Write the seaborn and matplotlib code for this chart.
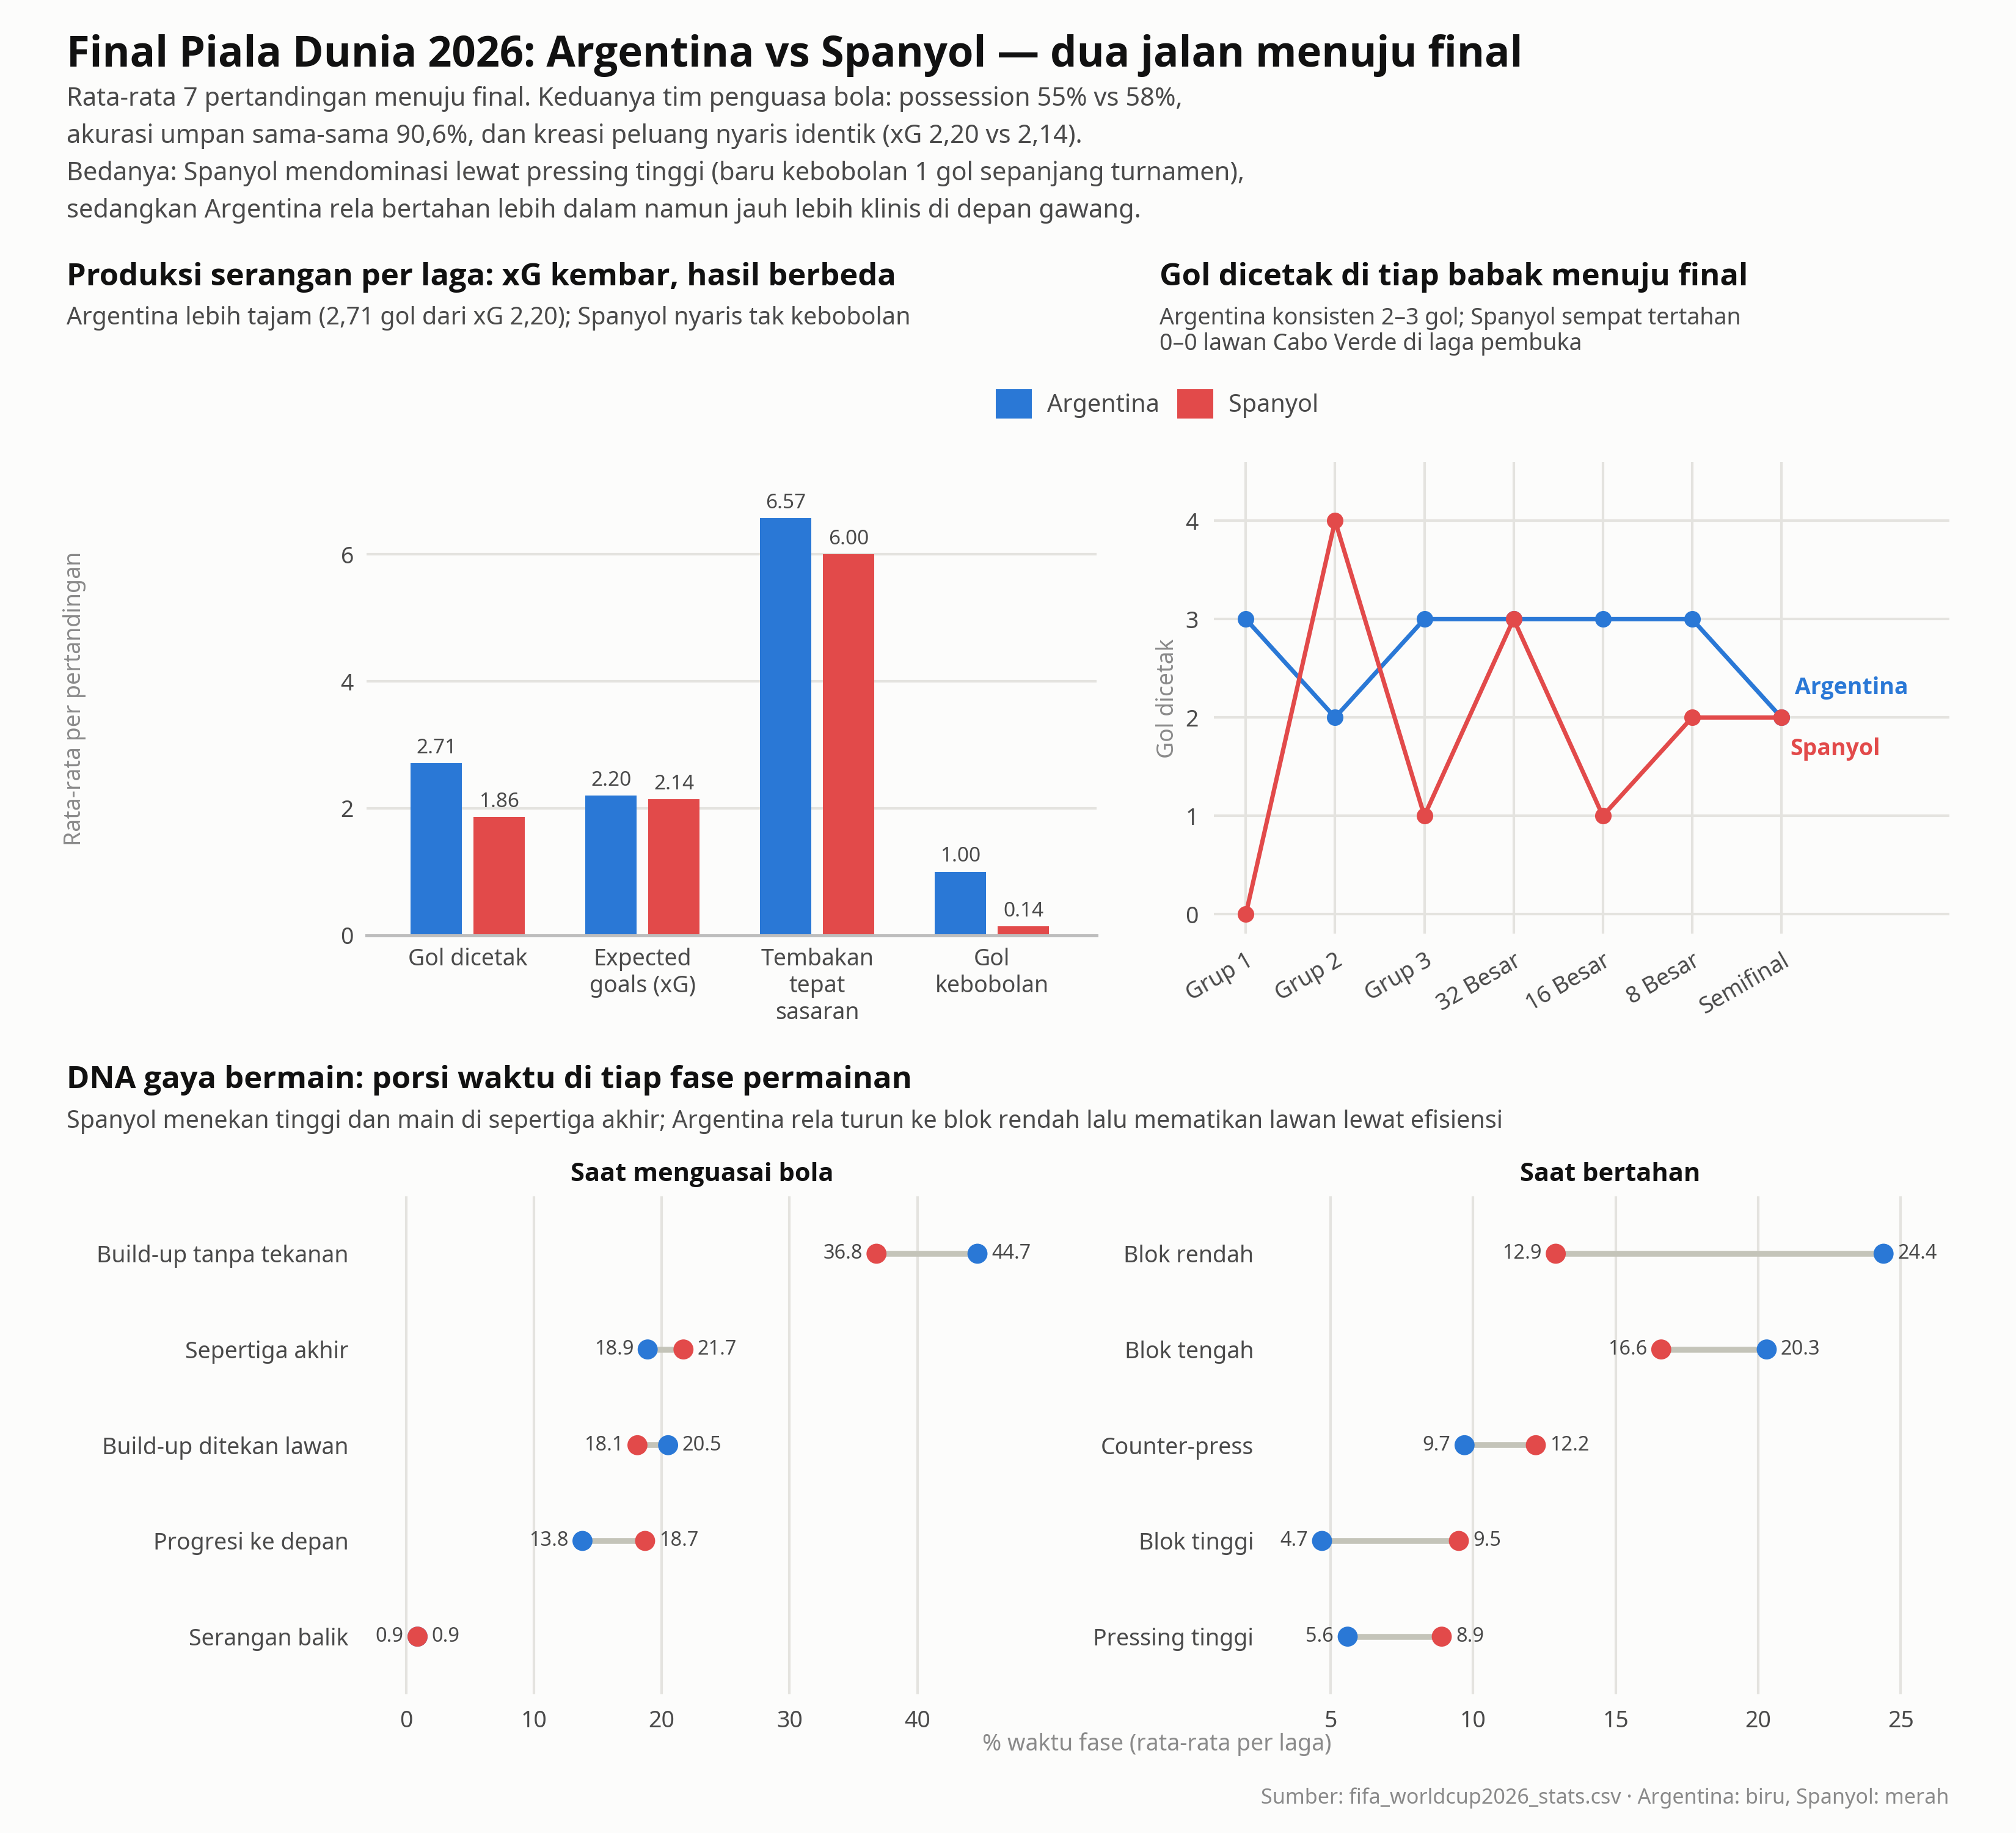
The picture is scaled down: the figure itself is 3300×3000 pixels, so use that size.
import matplotlib
matplotlib.use("Agg")
import matplotlib.pyplot as plt
from matplotlib import font_manager as fm
import seaborn as sns
import pandas as pd
import numpy as np
from matplotlib.patches import Patch

# ---------------- data ----------------
teams = ["Argentina", "Spanyol"]
bar_categories = ["Gol dicetak", "Expected\ngoals (xG)", "Tembakan\ntepat\nsasaran", "Gol\nkebobolan"]
bar_argentina = [2.71, 2.20, 6.57, 1.00]
bar_spanyol = [1.86, 2.14, 6.00, 0.14]

rounds = ["Grup 1", "Grup 2", "Grup 3", "32 Besar", "16 Besar", "8 Besar", "Semifinal"]
goals_argentina = [3, 2, 3, 3, 3, 3, 2]
goals_spanyol = [0, 4, 1, 3, 1, 2, 2]

poss_phases = ["Build-up tanpa tekanan", "Sepertiga akhir", "Build-up ditekan lawan",
               "Progresi ke depan", "Serangan balik"]
poss_argentina = [44.7, 18.9, 20.5, 13.8, 0.9]
poss_spanyol = [36.8, 21.7, 18.1, 18.7, 0.9]

def_phases = ["Blok rendah", "Blok tengah", "Counter-press", "Blok tinggi", "Pressing tinggi"]
def_argentina = [24.4, 20.3, 9.7, 4.7, 5.6]
def_spanyol = [12.9, 16.6, 12.2, 9.5, 8.9]

# ---------------- style ----------------
BLUE = "#2a78d6"
RED = "#e24a4a"
BG = "#fcfcfb"
GRID = "#e4e3df"
TXT = "#4a4a4a"
GRAYLBL = "#8a8a8a"
palette = {"Argentina": BLUE, "Spanyol": RED}

sns.set_theme(style="white")
plt.rcParams["font.family"] = ["Noto Sans", "DejaVu Sans"]
plt.rcParams["axes.facecolor"] = BG
plt.rcParams["figure.facecolor"] = BG

# find a family that really has a bold face (Noto Sans preferred, Open Sans is its close relative)
BOLD_FAMILY = "Noto Sans"
_cands = ["Noto Sans", "Open Sans", "Lato", "Roboto", "DejaVu Sans"]
_have = {}
for f in fm.fontManager.ttflist:
    w = f.weight if isinstance(f.weight, int) else 700 if str(f.weight).lower() == "bold" else 400
    if w >= 600 and f.style == "normal":
        _have[f.name] = True
for c in _cands:
    if _have.get(c):
        BOLD_FAMILY = c
        break
BOLD = dict(fontweight="bold", family=[BOLD_FAMILY, "DejaVu Sans"])

fig = plt.figure(figsize=(11, 10), dpi=300)

def fx(px):
    return px / 1568.0

def fy(py):
    return 1 - py / 1425.0

# ---------------- header texts ----------------
fig.text(fx(52), fy(52), "Final Piala Dunia 2026: Argentina vs Spanyol \u2014 dua jalan menuju final",
         fontsize=16.5, color="#111111", va="baseline", ha="left", **BOLD)
sub_lines = [
    "Rata-rata 7 pertandingan menuju final. Keduanya tim penguasa bola: possession 55% vs 58%,",
    "akurasi umpan sama-sama 90,6%, dan kreasi peluang nyaris identik (xG 2,20 vs 2,14).",
    "Bedanya: Spanyol mendominasi lewat pressing tinggi (baru kebobolan 1 gol sepanjang turnamen),",
    "sedangkan Argentina rela bertahan lebih dalam namun jauh lebih klinis di depan gawang.",
]
for i, line in enumerate(sub_lines):
    fig.text(fx(52), fy(82 + 29 * i), line, fontsize=10, color=TXT, va="baseline", ha="left")

fig.text(fx(52), fy(222), "Produksi serangan per laga: xG kembar, hasil berbeda",
         fontsize=12.15, color="#111111", va="baseline", **BOLD)
fig.text(fx(52), fy(252), "Argentina lebih tajam (2,71 gol dari xG 2,20); Spanyol nyaris tak kebobolan",
         fontsize=9.5, color=TXT, va="baseline")
fig.text(fx(902), fy(222), "Gol dicetak di tiap babak menuju final",
         fontsize=12.15, color="#111111", va="baseline", **BOLD)
fig.text(fx(902), fy(252), "Argentina konsisten 2\u20133 gol; Spanyol sempat tertahan",
         fontsize=9, color=TXT, va="baseline")
fig.text(fx(902), fy(272), "0\u20130 lawan Cabo Verde di laga pembuka",
         fontsize=9, color=TXT, va="baseline")

# legend
handles = [Patch(facecolor=BLUE, edgecolor="none"), Patch(facecolor=RED, edgecolor="none")]
fig.legend(handles, teams, loc="center", bbox_to_anchor=(fx(900), fy(314)), ncol=2,
           frameon=False, fontsize=9.5, handlelength=1.48, handleheight=1.48,
           columnspacing=0.75, handletextpad=0.63, labelcolor=TXT)

# ---------------- bar chart ----------------
ax1 = fig.add_axes([fx(285), fy(727), fx(853) - fx(285), fy(360) - fy(727)])
bar_df = pd.DataFrame({
    "kategori": bar_categories * 2,
    "nilai": bar_argentina + bar_spanyol,
    "tim": ["Argentina"] * 4 + ["Spanyol"] * 4,
})
sns.barplot(data=bar_df, x="kategori", y="nilai", hue="tim", palette=palette,
            width=0.72, gap=0.18, ax=ax1, legend=False, saturation=1, edgecolor="none")
for cont in ax1.containers:
    ax1.bar_label(cont, fmt="%.2f", padding=2, fontsize=8, color=TXT)
ax1.set_ylim(0, 7.44)
ax1.set_xlim(-0.58, 3.6)
ax1.set_yticks([0, 2, 4, 6])
ax1.yaxis.grid(True, color=GRID, linewidth=1)
ax1.set_axisbelow(True)
for s in ["top", "right", "left"]:
    ax1.spines[s].set_visible(False)
ax1.spines["bottom"].set_color("#bdbdbd")
ax1.spines["bottom"].set_linewidth(1.2)
ax1.tick_params(axis="both", length=0, labelsize=9, labelcolor=TXT, pad=5)
ax1.set_xlabel("")
ax1.set_ylabel("")
fig.text(fx(58), fy(543), "Rata-rata per pertandingan", rotation=90, ha="center", va="center",
         fontsize=9, color=GRAYLBL)

# ---------------- line chart ----------------
ax2 = fig.add_axes([fx(944), fy(726), fx(1516) - fx(944), fy(359) - fy(726)])
line_df = pd.DataFrame({
    "babak": list(range(len(rounds))) * 2,
    "gol": goals_argentina + goals_spanyol,
    "tim": ["Argentina"] * len(rounds) + ["Spanyol"] * len(rounds),
})
sns.lineplot(data=line_df, x="babak", y="gol", hue="tim", palette=palette, marker="o",
             markersize=6.5, markeredgewidth=0, linewidth=1.7, ax=ax2, legend=False)
ax2.set_xlim(-0.36, 7.88)
ax2.set_ylim(-0.2, 4.6)
ax2.set_xticks(range(len(rounds)))
ax2.set_xticklabels(rounds, rotation=30, ha="right", rotation_mode="anchor")
ax2.set_yticks([0, 1, 2, 3, 4])
ax2.grid(True, color=GRID, linewidth=1)
ax2.set_axisbelow(True)
for s in ax2.spines.values():
    s.set_visible(False)
ax2.tick_params(axis="both", length=0, labelsize=9, labelcolor=TXT, pad=6)
ax2.set_xlabel("")
ax2.set_ylabel("")
fig.text(fx(908), fy(543), "Gol dicetak", rotation=90, ha="center", va="center",
         fontsize=9, color=GRAYLBL)
ax2.text(6.15, 2.3, "Argentina", color=BLUE, fontsize=9, ha="left", va="center", **BOLD)
ax2.text(6.1, 1.68, "Spanyol", color=RED, fontsize=9, ha="left", va="center", **BOLD)

# ---------------- bottom section ----------------
fig.text(fx(52), fy(846), "DNA gaya bermain: porsi waktu di tiap fase permainan",
         fontsize=12.15, color="#111111", va="baseline", **BOLD)
fig.text(fx(52), fy(877), "Spanyol menekan tinggi dan main di sepertiga akhir; Argentina rela turun ke blok rendah lalu mematikan lawan lewat efisiensi",
         fontsize=9.5, color=TXT, va="baseline")


def dumbbell(ax, phases, arg, spa, title, xlim, xticks):
    n = len(phases)
    ys = np.arange(n)
    ax.hlines(ys, np.minimum(arg, spa), np.maximum(arg, spa), color="#c4c4b9", linewidth=2.3, zorder=1)
    df = pd.DataFrame({
        "fase": list(ys) * 2,
        "nilai": list(arg) + list(spa),
        "tim": ["Argentina"] * n + ["Spanyol"] * n,
    })
    sns.scatterplot(data=df, x="nilai", y="fase", hue="tim", palette=palette, s=62,
                    linewidth=0, ax=ax, legend=False, zorder=3)
    for i in range(n):
        a, s_ = arg[i], spa[i]
        lo, hi = (a, s_) if a <= s_ else (s_, a)
        ax.annotate(f"{lo:.1f}", (lo, i), xytext=(-5.5, 0), textcoords="offset points",
                    ha="right", va="center", fontsize=7.8, color=TXT)
        ax.annotate(f"{hi:.1f}", (hi, i), xytext=(5.5, 0), textcoords="offset points",
                    ha="left", va="center", fontsize=7.8, color=TXT)
    ax.set_ylim(n - 0.4, -0.6)
    ax.set_yticks(ys)
    ax.set_yticklabels(phases)
    ax.set_xlim(*xlim)
    ax.set_xticks(xticks)
    ax.xaxis.grid(True, color=GRID, linewidth=1)
    ax.yaxis.grid(False)
    ax.set_axisbelow(True)
    for sp in ax.spines.values():
        sp.set_visible(False)
    ax.tick_params(axis="both", length=0, labelsize=9, labelcolor=TXT, pad=6)
    ax.tick_params(axis="y", pad=7)
    ax.set_xlabel("")
    ax.set_ylabel("")
    ax.set_title(title, fontsize=10, color="#111111", pad=6, **BOLD)


ax3 = fig.add_axes([fx(285), fy(1317), fx(807) - fx(285), fy(930) - fy(1317)])
dumbbell(ax3, poss_phases, poss_argentina, poss_spanyol, "Saat menguasai bola", (-3.1, 49.4), [0, 10, 20, 30, 40])
ax4 = fig.add_axes([fx(989), fy(1317), fx(1516) - fx(989), fy(930) - fy(1317)])
dumbbell(ax4, def_phases, def_argentina, def_spanyol, "Saat bertahan", (2.93, 26.7), [5, 10, 15, 20, 25])

fig.text(fx(900), fy(1356), "% waktu fase (rata-rata per laga)", ha="center", va="center",
         fontsize=9, color=GRAYLBL)
fig.text(fx(1516), fy(1398), "Sumber: fifa_worldcup2026_stats.csv \u00b7 Argentina: biru, Spanyol: merah",
         ha="right", va="center", fontsize=8.2, color=GRAYLBL)

fig.savefig("out.png", dpi=300, facecolor=BG)
